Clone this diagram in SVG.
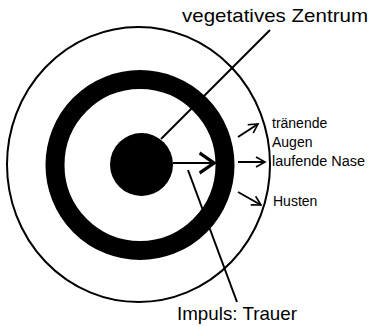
<svg xmlns="http://www.w3.org/2000/svg" width="371" height="326" viewBox="0 0 371 326">
<style>
.line{stroke:#000;stroke-width:2;fill:none}
.big{font-family:"Liberation Sans",Arial,sans-serif;font-size:19px;fill:#000}
.small{font-family:"Liberation Sans",Arial,sans-serif;font-size:14px;fill:#000}
</style>
<defs>
<marker id="ahs" viewBox="0 0 10 10" refX="9" refY="5" markerWidth="10" markerHeight="10" markerUnits="userSpaceOnUse" orient="auto" overflow="visible">
<path d="M0,0 L9,5 L0,10" fill="none" stroke="#000" stroke-width="1.6"/>
</marker>
<marker id="ahb" viewBox="0 0 10 10" refX="9" refY="5" markerWidth="16" markerHeight="20" markerUnits="userSpaceOnUse" orient="auto" overflow="visible" preserveAspectRatio="none">
<path d="M0,0 L9,5 L0,10" fill="none" stroke="#000" stroke-width="1.8"/>
</marker>
</defs>
<g id="outer"><ellipse cx="138.5" cy="164.5" rx="131.5" ry="137.5" fill="none" stroke="#000" stroke-width="2"/></g>
<g id="ring"><ellipse cx="140" cy="165" rx="85" ry="85.5" fill="none" stroke="#000" stroke-width="19"/></g>
<g id="center"><circle cx="141.5" cy="164.5" r="31.5" fill="#000"/></g>
<g id="connectors">
<line class="line" x1="161" y1="139" x2="270" y2="30"/>
<line class="line" x1="188" y1="170" x2="237" y2="302"/>
<line class="line" x1="173" y1="163" x2="214" y2="163" stroke-width="3" marker-end="url(#ahb)"/>
<line class="line" x1="238" y1="137" x2="258" y2="124" marker-end="url(#ahs)"/>
<line class="line" x1="238" y1="162" x2="265" y2="162" marker-end="url(#ahs)"/>
<line class="line" x1="238" y1="192" x2="261" y2="205" marker-end="url(#ahs)"/>
</g>
<g id="label-vegetativ"><text class="big" x="182" y="22" textLength="186" lengthAdjust="spacingAndGlyphs">vegetatives Zentrum</text></g>
<g id="label-impuls"><text class="big" x="177" y="320" textLength="120" lengthAdjust="spacingAndGlyphs">Impuls: Trauer</text></g>
<g id="label-traenende"><text class="small" x="272" y="128">tränende</text><text class="small" x="272" y="147">Augen</text></g>
<g id="label-nase"><text class="small" x="272" y="166" textLength="93" lengthAdjust="spacingAndGlyphs">laufende Nase</text></g>
<g id="label-husten"><text class="small" x="273" y="206">Husten</text></g>
</svg>
